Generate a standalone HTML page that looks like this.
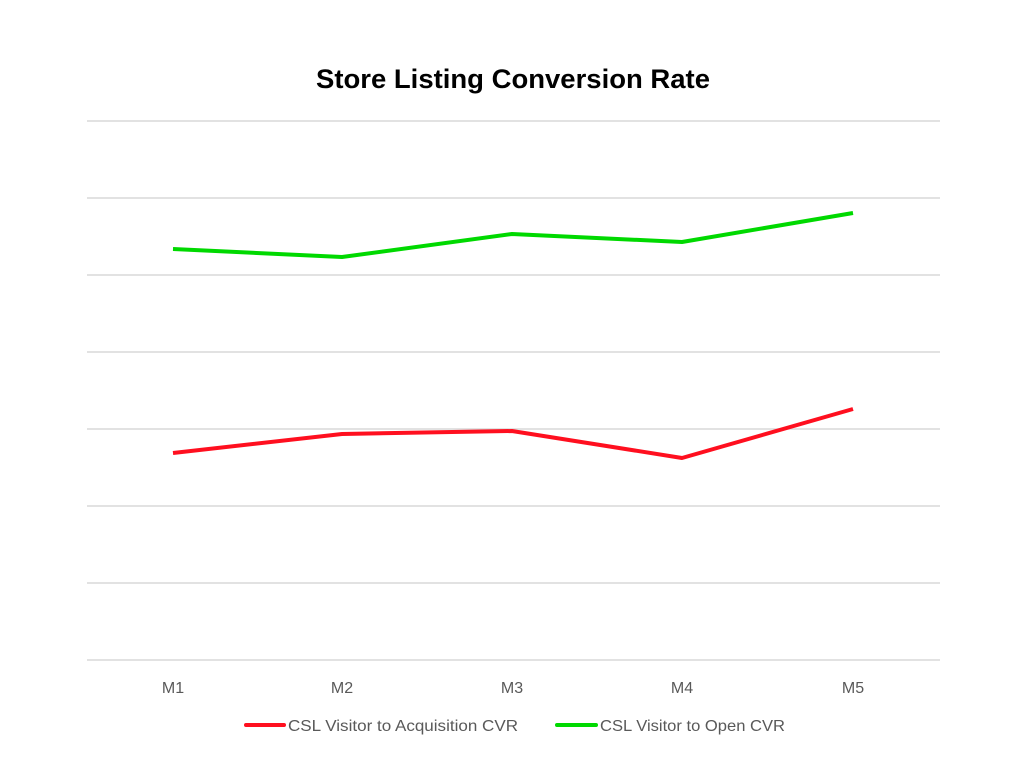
<!DOCTYPE html>
<html><head><style>body{margin:0;background:#fff}svg{display:block}</style></head>
<body>
<svg width="1024" height="765" xmlns="http://www.w3.org/2000/svg" font-family="Liberation Sans, sans-serif">
<rect width="1024" height="765" fill="#fff"/>
<text x="316" y="88" font-size="27" font-weight="bold" fill="#000" textLength="394" lengthAdjust="spacingAndGlyphs">Store Listing Conversion Rate</text>
<g stroke="#d9d9d9" stroke-width="1.5">
<line x1="87" x2="940" y1="121" y2="121"/><line x1="87" x2="940" y1="198" y2="198"/>
<line x1="87" x2="940" y1="275" y2="275"/><line x1="87" x2="940" y1="352" y2="352"/>
<line x1="87" x2="940" y1="429" y2="429"/><line x1="87" x2="940" y1="506" y2="506"/>
<line x1="87" x2="940" y1="583" y2="583"/><line x1="87" x2="940" y1="660" y2="660"/>
</g>
<polyline fill="none" stroke="#00d900" stroke-width="4" stroke-linejoin="round" points="173,249 342,257 512,234 682,242 853,213"/>
<polyline fill="none" stroke="#ff0f1f" stroke-width="4" stroke-linejoin="round" points="173,453 342,434 512,431 682,458 853,409"/>
<g font-size="16" fill="#595959" text-anchor="middle">
<text x="173" y="693">M1</text><text x="342" y="693">M2</text><text x="512" y="693">M3</text><text x="682" y="693">M4</text><text x="853" y="693">M5</text>
</g>
<line x1="246" x2="284" y1="725" y2="725" stroke="#ff0f1f" stroke-width="4" stroke-linecap="round"/>
<text x="288" y="731" font-size="16" fill="#595959" textLength="230" lengthAdjust="spacingAndGlyphs">CSL Visitor to Acquisition CVR</text>
<line x1="557" x2="596" y1="725" y2="725" stroke="#00d900" stroke-width="4" stroke-linecap="round"/>
<text x="600" y="731" font-size="16" fill="#595959" textLength="185" lengthAdjust="spacingAndGlyphs">CSL Visitor to Open CVR</text>
</svg>
</body></html>
